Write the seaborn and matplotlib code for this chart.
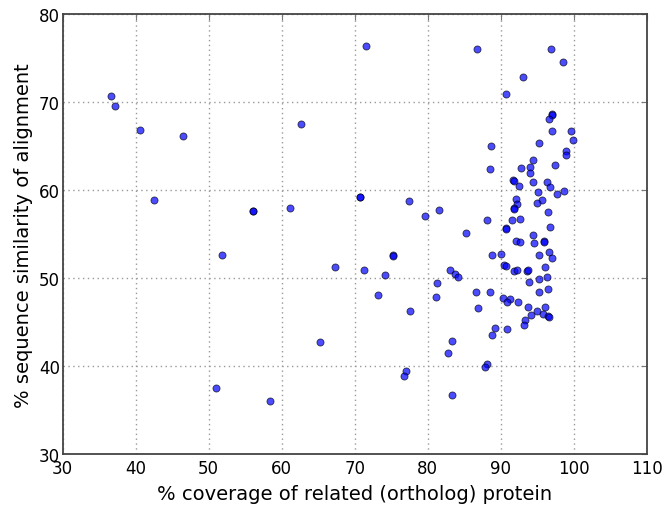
# %% data
import numpy as np
import pandas as pd
import seaborn as sns
import matplotlib
matplotlib.use("Agg")
import matplotlib.pyplot as plt

# % coverage of related (ortholog) protein
coverage = [
    36.6, 37.1, 40.6, 46.5, 62.6, 42.5, 56.1, 56.1, 61.1, 70.7, 70.8,
    51.8, 67.3, 65.3, 51.0, 58.4,
    71.6, 86.75, 96.9, 98.5, 93.0, 90.8, 97.1, 97.1, 96.6, 97.0, 99.7,
    99.95, 95.2, 88.7, 98.9, 99.0, 94.4, 97.5, 94.0, 92.8, 88.6, 94.0,
    91.7, 91.8, 94.4, 96.4, 92.5, 96.7, 95.1, 97.7, 98.7, 77.4, 79.6,
    81.6, 92.1, 92.3, 91.9, 91.9, 95.7, 95.0, 96.5, 88.1, 91.6, 92.6,
    96.7, 85.3, 90.7, 90.7, 94.4, 92.1, 92.7, 94.55, 95.9, 95.9,
    88.8, 90.1, 95.25, 96.65, 97.1, 75.3, 75.3, 71.3, 74.2, 90.5, 90.7,
    91.9, 92.3, 93.6, 93.7, 96.1, 93.9, 95.3, 96.4, 83.0, 83.75, 84.2,
    81.3, 73.2, 81.1, 86.65, 88.6, 90.3, 91.3, 90.9, 92.4, 95.25, 96.5,
    93.7, 95.0, 96.1, 94.2, 95.8, 96.5, 96.6, 93.4, 93.15, 86.85, 77.6,
    89.2, 90.9, 88.85, 83.3, 82.8, 88.1, 87.85, 77.0, 76.75, 83.3,
]
# % sequence similarity of alignment
similarity = [
    70.75, 69.6, 66.9, 66.2, 67.5, 58.9, 57.7, 57.6, 58.0, 59.3, 59.2,
    52.6, 51.3, 42.8, 37.6, 36.1,
    76.4, 76.1, 76.1, 74.6, 72.9, 70.9, 68.7, 68.6, 68.1, 66.7, 66.7,
    65.7, 65.4, 65.0, 64.5, 64.0, 63.5, 62.9, 62.7, 62.5, 62.4, 62.0,
    61.2, 61.1, 60.9, 61.0, 60.5, 60.4, 59.8, 59.6, 59.9, 58.8, 57.1,
    57.8, 59.0, 58.5, 58.0, 57.9, 58.9, 58.6, 57.5, 56.6, 56.6, 56.7,
    55.8, 55.2, 55.7, 55.6, 54.9, 54.3, 54.1, 54.0, 54.2, 54.1,
    52.7, 52.8, 52.6, 53.0, 52.3, 52.6, 52.5, 51.0, 50.4, 51.5, 51.4,
    50.8, 51.0, 50.8, 50.9, 51.3, 49.6, 49.9, 50.1, 50.9, 50.45, 50.1,
    49.5, 48.1, 47.9, 48.4, 48.4, 47.8, 47.7, 47.3, 47.3, 48.4, 48.8,
    46.7, 46.3, 46.8, 45.8, 45.9, 45.7, 45.6, 45.3, 44.7, 46.6, 46.3,
    44.4, 44.2, 43.6, 42.9, 41.5, 40.3, 39.9, 39.5, 38.9, 36.7,
]

df = pd.DataFrame({"coverage": coverage, "similarity": similarity})

x_ticks = [30, 40, 50, 60, 70, 80, 90, 100, 110]
y_ticks = [30, 40, 50, 60, 70, 80]

# %% plot
sns.set_style("white")
plt.rcParams["font.family"] = ["DejaVu Sans"]
plt.rcParams["text.color"] = "black"
plt.rcParams["axes.labelcolor"] = "black"

fig = plt.figure(figsize=(6.62, 5.10), dpi=100)
ax = fig.add_axes([0.0947, 0.107, 0.882, 0.863])

sns.scatterplot(
    data=df,
    x="coverage",
    y="similarity",
    color="blue",
    alpha=0.7,
    s=26,
    edgecolor="black",
    linewidth=0.6,
    ax=ax,
)

ax.set_xlim(30, 110)
ax.set_ylim(30, 80)
ax.set_xticks(x_ticks)
ax.set_yticks(y_ticks)
ax.grid(True, linestyle=(0, (1, 2.5)), color="#999999", linewidth=1.0)
ax.tick_params(direction="in", length=4, top=True, right=True, pad=2,
               labelsize=12, color="#777777", labelcolor="black")
ax.tick_params(axis="x", pad=3)
for sp in ax.spines.values():
    sp.set_color("#444444")
    sp.set_linewidth(1.3)

ax.set_xlabel("% coverage of related (ortholog) protein", fontsize=14,
              labelpad=5)
ax.set_ylabel("% sequence similarity of alignment", fontsize=14,
              labelpad=4)

fig.savefig("out.png", dpi=100)
